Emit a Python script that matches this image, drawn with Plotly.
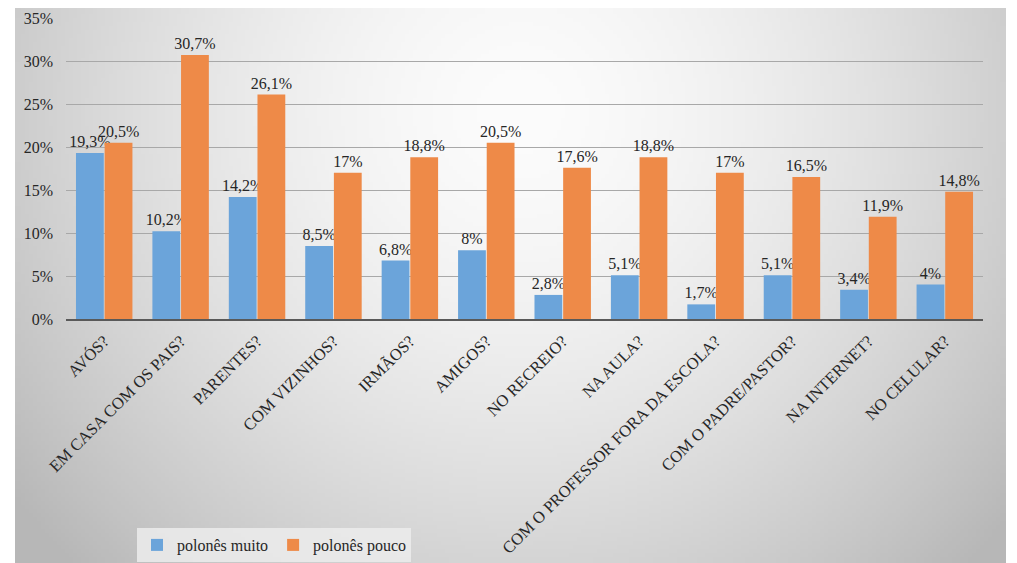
import base64, struct, zlib
import numpy as np
import plotly.graph_objects as go

categories = ["AVÓS?", "EM CASA COM OS PAIS?", "PARENTES?", "COM VIZINHOS?", "IRMÃOS?",
              "AMIGOS?", "NO RECREIO?", "NA AULA?", "COM O PROFESSOR FORA DA ESCOLA?",
              "COM O PADRE/PASTOR?", "NA INTERNET?", "NO CELULAR?"]
muito = [19.3, 10.2, 14.2, 8.5, 6.8, 8.0, 2.8, 5.1, 1.7, 5.1, 3.4, 4.0]
pouco = [20.5, 30.7, 26.1, 17.0, 18.8, 20.5, 17.6, 18.8, 17.0, 16.5, 11.9, 14.8]
series_names = ["polonês muito", "polonês pouco"]
y_ticks = [0, 5, 10, 15, 20, 25, 30, 35]


def fmt(v):
    return f"{v:g}".replace(".", ",") + "%"


# ---- background gradient image (chart area) ----
W, H = 1017, 563
PL, PR, PT, PB = 66, 983, 18, 319
CA_L, CA_R, CA_T, CA_B = 15, 1006, 8, 563

gw, gh = 248, 139
xs = np.linspace(CA_L, CA_R, gw)
ys = np.linspace(CA_T, CA_B, gh)
X, Y = np.meshgrid(xs, ys)
t = np.sqrt(((X - 520) / 560) ** 2 + ((Y - 110) / 560) ** 2)
t = np.clip(t, 0, 1.15)
val = 252 - 55 * (t ** 1.6)
val = np.clip(val, 180, 252).astype(np.uint8)
img = np.stack([val, val, val], axis=-1)


def png_uri(arr):
    h, w, _ = arr.shape
    raw = b"".join(b"\x00" + arr[r].tobytes() for r in range(h))

    def chunk(tag, data):
        c = struct.pack(">I", len(data)) + tag + data
        return c + struct.pack(">I", zlib.crc32(tag + data) & 0xFFFFFFFF)

    png = b"\x89PNG\r\n\x1a\n" + chunk(b"IHDR", struct.pack(">IIBBBBB", w, h, 8, 2, 0, 0, 0)) \
        + chunk(b"IDAT", zlib.compress(raw, 9)) + chunk(b"IEND", b"")
    return "data:image/png;base64," + base64.b64encode(png).decode()


pw = PR - PL
ph = PB - PT

font_family = "Liberation Serif"

fig = go.Figure()
fig.add_trace(go.Bar(
    x=categories, y=muito, name=series_names[0],
    marker=dict(color="#6BA4DA", line=dict(width=0)),
    text=[fmt(v) for v in muito], textposition="outside", cliponaxis=False,
    constraintext="none", textfont=dict(family=font_family, size=16, color="#262626"),
))
fig.add_trace(go.Bar(
    x=categories, y=pouco, name=series_names[1],
    marker=dict(color="#EE8A48", line=dict(width=0)),
    text=[fmt(v) for v in pouco], textposition="outside", cliponaxis=False,
    constraintext="none", textfont=dict(family=font_family, size=16, color="#262626"),
))

fig.update_layout(
    width=W, height=H,
    margin=dict(l=PL, r=W - PR, t=PT, b=H - PB, autoexpand=False),
    paper_bgcolor="white", plot_bgcolor="rgba(0,0,0,0)",
    barmode="group", bargap=0.25, bargroupgap=0.03,
    font=dict(family=font_family, size=16, color="#262626"),
    showlegend=True,
    legend=dict(orientation="h", x=(137 - PL) / pw, y=(PB - 528) / ph,
                xanchor="left", yanchor="top",
                bgcolor="rgba(236,236,236,0.85)", borderwidth=0,
                font=dict(family=font_family, size=16, color="#262626"),
                itemwidth=30, tracegroupgap=0),
    images=[dict(source=png_uri(img), xref="paper", yref="paper",
                 x=(CA_L - PL) / pw, y=(PB - CA_T) / ph,
                 sizex=(CA_R - CA_L) / pw, sizey=(CA_B - CA_T) / ph,
                 xanchor="left", yanchor="top", sizing="stretch", layer="below")],
)
fig.update_yaxes(range=[0, 35], tickvals=y_ticks, ticktext=[f"{v}%" for v in y_ticks],
                 showgrid=True, gridcolor="#a8a8a8", gridwidth=1, zeroline=False,
                 showline=False, ticks="", ticklabelstandoff=12,
                 tickfont=dict(family=font_family, size=16, color="#262626"),
                 automargin=False, fixedrange=True)
fig.update_xaxes(tickangle=-45, showline=True, linecolor="#595959", linewidth=2,
                 ticks="", showgrid=False, automargin=False, ticklabelstandoff=4,
                 tickfont=dict(family=font_family, size=16.5, color="#262626"))

fig.write_html("out.html", config={"displayModeBar": False},
               post_script="document.body.style.margin='0';document.body.style.overflow='hidden';")
